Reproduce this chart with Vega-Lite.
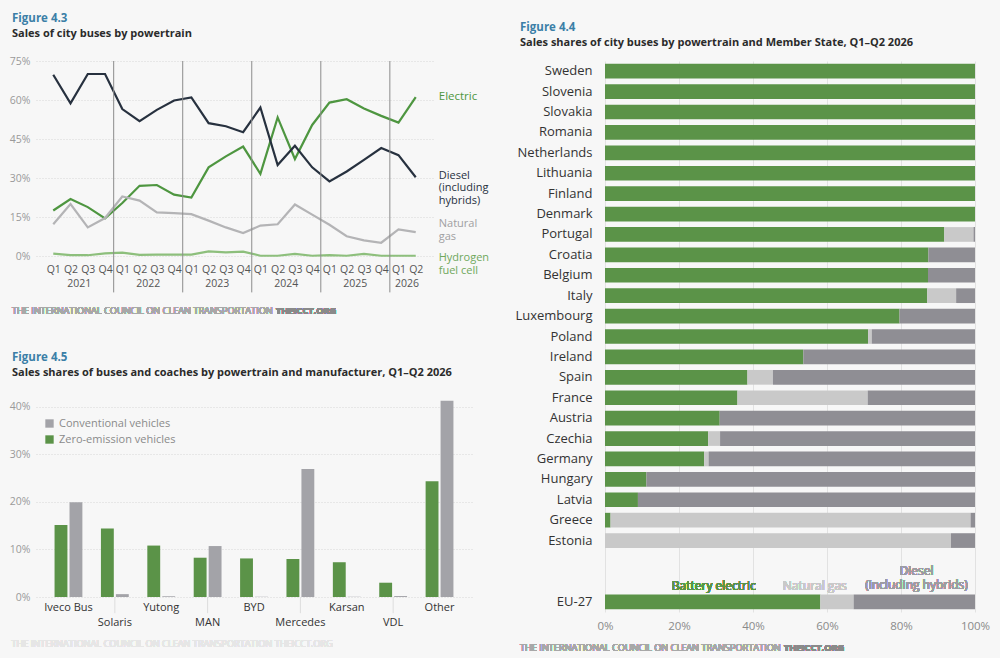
{
"$schema": "https://vega.github.io/schema/vega-lite/v6.json",
"background": "#f7f7f7",
"padding": {"left": 9, "top": 12, "right": 10, "bottom": 5},
"config": {"font": "Open Sans", "view": {"stroke": null}, "axis": {"labelFlush": false, "domain": false, "ticks": false, "labelOverlap": false}},
"spacing": 24,
"resolve": {"scale": {"x": "independent", "y": "independent", "color": "independent", "xOffset": "independent"}},
"hconcat": [
{
"vconcat": [
{
"title": {"text": "Figure 4.3", "subtitle": "Sales of city buses by powertrain", "anchor": "start", "frame": "group", "dx": -24, "offset": 17, "fontSize": 11.5, "fontWeight": "bold", "color": "#3b7fa7", "subtitleFontSize": 11, "subtitleFontWeight": "bold", "subtitleColor": "#2b2b2b", "subtitlePadding": 4},
"width": 397,
"height": 195,
"data": {"values": [
{"i":0,"quarter":"Q1","year":"2021","series":"Electric","share":17.5},
{"i":1,"quarter":"Q2","year":"2021","series":"Electric","share":21.9},
{"i":2,"quarter":"Q3","year":"2021","series":"Electric","share":18.8},
{"i":3,"quarter":"Q4","year":"2021","series":"Electric","share":14.5},
{"i":4,"quarter":"Q1","year":"2022","series":"Electric","share":20.4},
{"i":5,"quarter":"Q2","year":"2022","series":"Electric","share":27.0},
{"i":6,"quarter":"Q3","year":"2022","series":"Electric","share":27.3},
{"i":7,"quarter":"Q4","year":"2022","series":"Electric","share":23.6},
{"i":8,"quarter":"Q1","year":"2023","series":"Electric","share":22.5},
{"i":9,"quarter":"Q2","year":"2023","series":"Electric","share":34.1},
{"i":10,"quarter":"Q3","year":"2023","series":"Electric","share":38.3},
{"i":11,"quarter":"Q4","year":"2023","series":"Electric","share":42.1},
{"i":12,"quarter":"Q1","year":"2024","series":"Electric","share":31.6},
{"i":13,"quarter":"Q2","year":"2024","series":"Electric","share":53.3},
{"i":14,"quarter":"Q3","year":"2024","series":"Electric","share":37.3},
{"i":15,"quarter":"Q4","year":"2024","series":"Electric","share":50.4},
{"i":16,"quarter":"Q1","year":"2025","series":"Electric","share":59.0},
{"i":17,"quarter":"Q2","year":"2025","series":"Electric","share":60.3},
{"i":18,"quarter":"Q3","year":"2025","series":"Electric","share":56.7},
{"i":19,"quarter":"Q4","year":"2025","series":"Electric","share":53.9},
{"i":20,"quarter":"Q1","year":"2026","series":"Electric","share":51.3},
{"i":21,"quarter":"Q2","year":"2026","series":"Electric","share":61.1},
{"i":0,"quarter":"Q1","year":"2021","series":"Diesel (including hybrids)","share":69.7},
{"i":1,"quarter":"Q2","year":"2021","series":"Diesel (including hybrids)","share":58.7},
{"i":2,"quarter":"Q3","year":"2021","series":"Diesel (including hybrids)","share":70.0},
{"i":3,"quarter":"Q4","year":"2021","series":"Diesel (including hybrids)","share":70.0},
{"i":4,"quarter":"Q1","year":"2022","series":"Diesel (including hybrids)","share":56.5},
{"i":5,"quarter":"Q2","year":"2022","series":"Diesel (including hybrids)","share":51.9},
{"i":6,"quarter":"Q3","year":"2022","series":"Diesel (including hybrids)","share":56.2},
{"i":7,"quarter":"Q4","year":"2022","series":"Diesel (including hybrids)","share":59.8},
{"i":8,"quarter":"Q1","year":"2023","series":"Diesel (including hybrids)","share":61.0},
{"i":9,"quarter":"Q2","year":"2023","series":"Diesel (including hybrids)","share":51.1},
{"i":10,"quarter":"Q3","year":"2023","series":"Diesel (including hybrids)","share":49.9},
{"i":11,"quarter":"Q4","year":"2023","series":"Diesel (including hybrids)","share":47.6},
{"i":12,"quarter":"Q1","year":"2024","series":"Diesel (including hybrids)","share":57.1},
{"i":13,"quarter":"Q2","year":"2024","series":"Diesel (including hybrids)","share":35.0},
{"i":14,"quarter":"Q3","year":"2024","series":"Diesel (including hybrids)","share":42.4},
{"i":15,"quarter":"Q4","year":"2024","series":"Diesel (including hybrids)","share":34.1},
{"i":16,"quarter":"Q1","year":"2025","series":"Diesel (including hybrids)","share":28.7},
{"i":17,"quarter":"Q2","year":"2025","series":"Diesel (including hybrids)","share":32.5},
{"i":18,"quarter":"Q3","year":"2025","series":"Diesel (including hybrids)","share":37.0},
{"i":19,"quarter":"Q4","year":"2025","series":"Diesel (including hybrids)","share":41.5},
{"i":20,"quarter":"Q1","year":"2026","series":"Diesel (including hybrids)","share":38.8},
{"i":21,"quarter":"Q2","year":"2026","series":"Diesel (including hybrids)","share":30.3},
{"i":0,"quarter":"Q1","year":"2021","series":"Natural gas","share":12.2},
{"i":1,"quarter":"Q2","year":"2021","series":"Natural gas","share":20.0},
{"i":2,"quarter":"Q3","year":"2021","series":"Natural gas","share":11.0},
{"i":3,"quarter":"Q4","year":"2021","series":"Natural gas","share":14.6},
{"i":4,"quarter":"Q1","year":"2022","series":"Natural gas","share":22.9},
{"i":5,"quarter":"Q2","year":"2022","series":"Natural gas","share":21.3},
{"i":6,"quarter":"Q3","year":"2022","series":"Natural gas","share":16.8},
{"i":7,"quarter":"Q4","year":"2022","series":"Natural gas","share":16.5},
{"i":8,"quarter":"Q1","year":"2023","series":"Natural gas","share":16.1},
{"i":9,"quarter":"Q2","year":"2023","series":"Natural gas","share":13.6},
{"i":10,"quarter":"Q3","year":"2023","series":"Natural gas","share":11.0},
{"i":11,"quarter":"Q4","year":"2023","series":"Natural gas","share":8.8},
{"i":12,"quarter":"Q1","year":"2024","series":"Natural gas","share":11.7},
{"i":13,"quarter":"Q2","year":"2024","series":"Natural gas","share":12.2},
{"i":14,"quarter":"Q3","year":"2024","series":"Natural gas","share":19.8},
{"i":15,"quarter":"Q4","year":"2024","series":"Natural gas","share":15.9},
{"i":16,"quarter":"Q1","year":"2025","series":"Natural gas","share":12.0},
{"i":17,"quarter":"Q2","year":"2025","series":"Natural gas","share":7.6},
{"i":18,"quarter":"Q3","year":"2025","series":"Natural gas","share":6.0},
{"i":19,"quarter":"Q4","year":"2025","series":"Natural gas","share":5.1},
{"i":20,"quarter":"Q1","year":"2026","series":"Natural gas","share":10.2},
{"i":21,"quarter":"Q2","year":"2026","series":"Natural gas","share":9.2},
{"i":0,"quarter":"Q1","year":"2021","series":"Hydrogen fuel cell","share":0.9},
{"i":1,"quarter":"Q2","year":"2021","series":"Hydrogen fuel cell","share":0.3},
{"i":2,"quarter":"Q3","year":"2021","series":"Hydrogen fuel cell","share":0.3},
{"i":3,"quarter":"Q4","year":"2021","series":"Hydrogen fuel cell","share":1.0},
{"i":4,"quarter":"Q1","year":"2022","series":"Hydrogen fuel cell","share":1.3},
{"i":5,"quarter":"Q2","year":"2022","series":"Hydrogen fuel cell","share":0.4},
{"i":6,"quarter":"Q3","year":"2022","series":"Hydrogen fuel cell","share":0.5},
{"i":7,"quarter":"Q4","year":"2022","series":"Hydrogen fuel cell","share":0.5},
{"i":8,"quarter":"Q1","year":"2023","series":"Hydrogen fuel cell","share":0.5},
{"i":9,"quarter":"Q2","year":"2023","series":"Hydrogen fuel cell","share":1.8},
{"i":10,"quarter":"Q3","year":"2023","series":"Hydrogen fuel cell","share":1.4},
{"i":11,"quarter":"Q4","year":"2023","series":"Hydrogen fuel cell","share":1.7},
{"i":12,"quarter":"Q1","year":"2024","series":"Hydrogen fuel cell","share":0.1},
{"i":13,"quarter":"Q2","year":"2024","series":"Hydrogen fuel cell","share":0.1},
{"i":14,"quarter":"Q3","year":"2024","series":"Hydrogen fuel cell","share":0.8},
{"i":15,"quarter":"Q4","year":"2024","series":"Hydrogen fuel cell","share":0.1},
{"i":16,"quarter":"Q1","year":"2025","series":"Hydrogen fuel cell","share":0.3},
{"i":17,"quarter":"Q2","year":"2025","series":"Hydrogen fuel cell","share":0.1},
{"i":18,"quarter":"Q3","year":"2025","series":"Hydrogen fuel cell","share":0.8},
{"i":19,"quarter":"Q4","year":"2025","series":"Hydrogen fuel cell","share":0.1},
{"i":20,"quarter":"Q1","year":"2026","series":"Hydrogen fuel cell","share":0.1},
{"i":21,"quarter":"Q2","year":"2026","series":"Hydrogen fuel cell","share":0.1}
]},
"layer": [
{
"mark": {"type": "line", "strokeWidth": 2.2},
"encoding": {
"x": {"field": "i", "type": "quantitative", "title": null, "scale": {"domain": [-1, 22], "nice": false, "zero": false},
"axis": {"values": [0,1,2,3,4,5,6,7,8,9,10,11,12,13,14,15,16,17,18,19,20,21], "tickCount": 30, "labelExpr": "['Q1','Q2','Q3','Q4'][datum.value % 4]", "labelColor": "#555555", "labelFontSize": 10.5, "labelPadding": 8, "grid": false, "domain": false, "ticks": false, "labelFlush": false, "labelOverlap": false, "labelAngle": 0, "labelAlign": "center", "labelBaseline": "top"}},
"y": {"field": "share", "type": "quantitative", "title": null, "scale": {"domain": [0, 75], "nice": false},
"axis": {"values": [0, 15, 30, 45, 60, 75], "tickCount": 10, "labelExpr": "datum.value + '%'", "labelColor": "#9a9a9a", "labelFontSize": 10.5, "labelPadding": 6, "labelOverlap": false, "gridColor": "#d6d6d6", "gridDash": [1, 2], "domain": false, "ticks": false}},
"color": {"field": "series", "type": "nominal", "scale": {"domain": ["Hydrogen fuel cell", "Natural gas", "Electric", "Diesel (including hybrids)"], "range": ["#8dbf7c", "#b4b4b6", "#4e9640", "#27313f"]}, "legend": null}
}
},
{
"data": {"values": [{"boundary": 3.5}, {"boundary": 7.5}, {"boundary": 11.5}, {"boundary": 15.5}, {"boundary": 19.5}]},
"mark": {"type": "rule", "color": "#8c8c8c", "strokeWidth": 1, "clip": false},
"encoding": {
"x": {"field": "boundary", "type": "quantitative", "title": null},
"y": {"datum": 75, "type": "quantitative"},
"y2": {"datum": -14}
}
},
{
"transform": [{"filter": "datum.series == 'Electric'"}, {"aggregate": [{"op": "mean", "field": "i", "as": "mid"}], "groupby": ["year"]}],
"mark": {"type": "text", "dy": 28, "fontSize": 10.5, "color": "#555555", "baseline": "middle"},
"encoding": {"x": {"field": "mid", "type": "quantitative"}, "y": {"datum": 0}, "text": {"field": "year"}}
},
{
"transform": [{"filter": "datum.i == 21 && datum.series == 'Electric'"}],
"mark": {"type": "text", "align": "left", "baseline": "middle", "dx": 23, "fontSize": 11.5, "color": "#4e9640", "text": "Electric"},
"encoding": {"x": {"field": "i", "type": "quantitative"}, "y": {"field": "share", "type": "quantitative"}}
},
{
"transform": [{"filter": "datum.i == 21 && datum.series == 'Diesel (including hybrids)'"}],
"mark": {"type": "text", "align": "left", "baseline": "middle", "dx": 23, "dy": -1.5, "fontSize": 11, "lineHeight": 12.5, "color": "#27313f", "text": ["Diesel", "(including", "hybrids)"]},
"encoding": {"x": {"field": "i", "type": "quantitative"}, "y": {"field": "share", "type": "quantitative"}}
},
{
"transform": [{"filter": "datum.i == 21 && datum.series == 'Natural gas'"}],
"mark": {"type": "text", "align": "left", "baseline": "middle", "dx": 23, "dy": -8, "fontSize": 11, "lineHeight": 13, "color": "#a0a0a2", "text": ["Natural", "gas"]},
"encoding": {"x": {"field": "i", "type": "quantitative"}, "y": {"field": "share", "type": "quantitative"}}
},
{
"transform": [{"filter": "datum.i == 21 && datum.series == 'Hydrogen fuel cell'"}],
"mark": {"type": "text", "align": "left", "baseline": "middle", "dx": 23, "dy": 2.5, "fontSize": 11, "lineHeight": 13, "color": "#6fa85c", "text": ["Hydrogen", "fuel cell"]},
"encoding": {"x": {"field": "i", "type": "quantitative"}, "y": {"field": "share", "type": "quantitative"}}
},
{
"mark": {"type": "text", "align": "left", "baseline": "middle", "dx": -24, "dy": 55, "fontSize": 9.2, "color": "#a8a8a8", "text": "THE INTERNATIONAL COUNCIL ON CLEAN TRANSPORTATION"},
"encoding": {"x": {"datum": -1}, "y": {"datum": 0}}
},
{
"mark": {"type": "text", "align": "left", "baseline": "middle", "dx": 240, "dy": 55, "fontSize": 9.2, "fontWeight": "bold", "color": "#8a8a8a", "text": "THEICCT.ORG"},
"encoding": {"x": {"datum": -1}, "y": {"datum": 0}}
}
]
},
{
"title": {"text": "Figure 4.5", "subtitle": "Sales shares of buses and coaches by powertrain and manufacturer, Q1–Q2 2026", "anchor": "start", "frame": "group", "dx": -24, "offset": 19, "fontSize": 11.5, "fontWeight": "bold", "color": "#3b7fa7", "subtitleFontSize": 11, "subtitleFontWeight": "bold", "subtitleColor": "#2b2b2b", "subtitlePadding": 4},
"width": 436,
"height": 200,
"data": {"values": [
{"manufacturer":"Iveco Bus","type":"Zero-emission vehicles","share":15.1},
{"manufacturer":"Iveco Bus","type":"Conventional vehicles","share":19.9},
{"manufacturer":"Solaris","type":"Zero-emission vehicles","share":14.4},
{"manufacturer":"Solaris","type":"Conventional vehicles","share":0.6},
{"manufacturer":"Yutong","type":"Zero-emission vehicles","share":10.8},
{"manufacturer":"Yutong","type":"Conventional vehicles","share":0.15},
{"manufacturer":"MAN","type":"Zero-emission vehicles","share":8.25},
{"manufacturer":"MAN","type":"Conventional vehicles","share":10.7},
{"manufacturer":"BYD","type":"Zero-emission vehicles","share":8.1},
{"manufacturer":"BYD","type":"Conventional vehicles","share":0.05},
{"manufacturer":"Mercedes","type":"Zero-emission vehicles","share":8.0},
{"manufacturer":"Mercedes","type":"Conventional vehicles","share":26.9},
{"manufacturer":"Karsan","type":"Zero-emission vehicles","share":7.3},
{"manufacturer":"Karsan","type":"Conventional vehicles","share":0.05},
{"manufacturer":"VDL","type":"Zero-emission vehicles","share":3.0},
{"manufacturer":"VDL","type":"Conventional vehicles","share":0.2},
{"manufacturer":"Other","type":"Zero-emission vehicles","share":24.3},
{"manufacturer":"Other","type":"Conventional vehicles","share":41.2}
]},
"layer": [
{
"mark": {"type": "bar"},
"encoding": {
"x": {"field": "manufacturer", "type": "nominal", "title": null, "scale": {"domain": ["Iveco Bus","Solaris","Yutong","MAN","BYD","Mercedes","Karsan","VDL","Other"], "paddingInner": 0.4, "paddingOuter": 0.4},
"axis": {"labelAngle": 0, "labelAlign": "center", "labelBaseline": "top", "labelColor": "#333333", "labelFontSize": 11, "labelPadding": 4, "labelLineHeight": 15, "labelExpr": "indexof(['Solaris','MAN','Mercedes','VDL'], datum.value) >= 0 ? ['', datum.value] : datum.value", "domain": false, "ticks": false}},
"xOffset": {"field": "type", "type": "nominal", "sort": ["Zero-emission vehicles", "Conventional vehicles"], "scale": {"paddingInner": 0.14}},
"y": {"field": "share", "type": "quantitative", "title": null, "scale": {"domain": [0, 42], "nice": false},
"axis": {"values": [0, 10, 20, 30, 40], "tickCount": 10, "labelExpr": "datum.value + '%'", "labelColor": "#9a9a9a", "labelFontSize": 10.5, "labelPadding": 6, "gridColor": "#d6d6d6", "gridDash": [1, 2], "domain": false, "ticks": false}},
"color": {"field": "type", "type": "nominal", "scale": {"domain": ["Conventional vehicles", "Zero-emission vehicles"], "range": ["#a3a3a8", "#5b9348"]},
"legend": {"orient": "none", "legendX": 8, "legendY": 21, "title": null, "symbolType": "square", "symbolSize": 70, "symbolStrokeWidth": 0, "labelFontSize": 11, "labelColor": "#8a8a8a", "rowPadding": 4}}
}
},
{
"transform": [{"filter": "datum.type == 'Zero-emission vehicles' && indexof(['Solaris','MAN','Mercedes','VDL'], datum.manufacturer) >= 0"}],
"mark": {"type": "rule", "color": "#dddddd", "strokeWidth": 1, "clip": false},
"encoding": {
"x": {"field": "manufacturer", "type": "nominal", "title": null},
"y": {"datum": 0, "type": "quantitative"},
"y2": {"datum": -3.4}
}
},
{
"mark": {"type": "text", "align": "left", "baseline": "middle", "dx": -57, "dy": 47, "fontSize": 9.2, "color": "#e6e6e6", "text": "THE INTERNATIONAL COUNCIL ON CLEAN TRANSPORTATION THEICCT.ORG"},
"encoding": {"x": {"datum": "Iveco Bus"}, "y": {"datum": 0}}
}
]
}
],
"spacing": 141,
"bounds": "flush",
"resolve": {"scale": {"x": "independent", "y": "independent", "color": "independent", "xOffset": "independent"}}
},
{
"title": {"text": "Figure 4.4", "subtitle": "Sales shares of city buses by powertrain and Member State, Q1–Q2 2026", "anchor": "start", "frame": "group", "dx": -85, "offset": 13, "fontSize": 11.5, "fontWeight": "bold", "color": "#3b7fa7", "subtitleFontSize": 11, "subtitleFontWeight": "bold", "subtitleColor": "#2b2b2b", "subtitlePadding": 4},
"width": 370,
"height": 551,
"data": {"values": [
{"country":"Sweden","powertrain":"Battery electric","share":100},
{"country":"Slovenia","powertrain":"Battery electric","share":100},
{"country":"Slovakia","powertrain":"Battery electric","share":100},
{"country":"Romania","powertrain":"Battery electric","share":100},
{"country":"Netherlands","powertrain":"Battery electric","share":100},
{"country":"Lithuania","powertrain":"Battery electric","share":100},
{"country":"Finland","powertrain":"Battery electric","share":100},
{"country":"Denmark","powertrain":"Battery electric","share":100},
{"country":"Portugal","powertrain":"Battery electric","share":91.7},
{"country":"Portugal","powertrain":"Natural gas","share":7.9},
{"country":"Portugal","powertrain":"Diesel (including hybrids)","share":0.4},
{"country":"Croatia","powertrain":"Battery electric","share":87.4},
{"country":"Croatia","powertrain":"Diesel (including hybrids)","share":12.6},
{"country":"Belgium","powertrain":"Battery electric","share":87.3},
{"country":"Belgium","powertrain":"Diesel (including hybrids)","share":12.7},
{"country":"Italy","powertrain":"Battery electric","share":87.1},
{"country":"Italy","powertrain":"Natural gas","share":7.8},
{"country":"Italy","powertrain":"Diesel (including hybrids)","share":5.1},
{"country":"Luxembourg","powertrain":"Battery electric","share":79.6},
{"country":"Luxembourg","powertrain":"Diesel (including hybrids)","share":20.4},
{"country":"Poland","powertrain":"Battery electric","share":71.1},
{"country":"Poland","powertrain":"Natural gas","share":1.0},
{"country":"Poland","powertrain":"Diesel (including hybrids)","share":27.9},
{"country":"Ireland","powertrain":"Battery electric","share":53.6},
{"country":"Ireland","powertrain":"Diesel (including hybrids)","share":46.4},
{"country":"Spain","powertrain":"Battery electric","share":38.5},
{"country":"Spain","powertrain":"Natural gas","share":6.9},
{"country":"Spain","powertrain":"Diesel (including hybrids)","share":54.6},
{"country":"France","powertrain":"Battery electric","share":35.8},
{"country":"France","powertrain":"Natural gas","share":35.2},
{"country":"France","powertrain":"Diesel (including hybrids)","share":29.0},
{"country":"Austria","powertrain":"Battery electric","share":31.0},
{"country":"Austria","powertrain":"Diesel (including hybrids)","share":69.0},
{"country":"Czechia","powertrain":"Battery electric","share":27.9},
{"country":"Czechia","powertrain":"Natural gas","share":3.2},
{"country":"Czechia","powertrain":"Diesel (including hybrids)","share":68.9},
{"country":"Germany","powertrain":"Battery electric","share":26.8},
{"country":"Germany","powertrain":"Natural gas","share":1.2},
{"country":"Germany","powertrain":"Diesel (including hybrids)","share":72.0},
{"country":"Hungary","powertrain":"Battery electric","share":11.2},
{"country":"Hungary","powertrain":"Diesel (including hybrids)","share":88.8},
{"country":"Latvia","powertrain":"Battery electric","share":8.9},
{"country":"Latvia","powertrain":"Diesel (including hybrids)","share":91.1},
{"country":"Greece","powertrain":"Battery electric","share":1.5},
{"country":"Greece","powertrain":"Natural gas","share":97.3},
{"country":"Greece","powertrain":"Diesel (including hybrids)","share":1.2},
{"country":"Estonia","powertrain":"Natural gas","share":93.5},
{"country":"Estonia","powertrain":"Diesel (including hybrids)","share":6.5},
{"country":"EU-27","powertrain":"Battery electric","share":58.2},
{"country":"EU-27","powertrain":"Natural gas","share":9.0},
{"country":"EU-27","powertrain":"Diesel (including hybrids)","share":32.8}
]},
"layer": [
{
"transform": [{"calculate": "indexof(['Battery electric','Natural gas','Diesel (including hybrids)'], datum.powertrain)", "as": "stackOrder"}],
"mark": {"type": "bar"},
"encoding": {
"y": {"field": "country", "type": "nominal", "title": null,
"scale": {"domain": ["Sweden","Slovenia","Slovakia","Romania","Netherlands","Lithuania","Finland","Denmark","Portugal","Croatia","Belgium","Italy","Luxembourg","Poland","Ireland","Spain","France","Austria","Czechia","Germany","Hungary","Latvia","Greece","Estonia"," ","  ","EU-27"], "paddingInner": 0.28, "paddingOuter": 0.14},
"axis": {"labelColor": "#333333", "labelFontSize": 13, "labelPadding": 13, "ticks": false, "domain": false}},
"x": {"field": "share", "type": "quantitative", "stack": "normalize", "title": null,
"axis": {"values": [0, 0.2, 0.4, 0.6, 0.8, 1], "tickCount": 10, "format": ".0%", "labelColor": "#8a8a8a", "labelFontSize": 11.5, "labelPadding": 8, "gridColor": "#e2e2e2", "labelFlush": false, "domain": false, "ticks": false}},
"color": {"field": "powertrain", "type": "nominal",
"scale": {"domain": ["Battery electric", "Natural gas", "Diesel (including hybrids)"], "range": ["#5b9348", "#c9c9c9", "#8f8e94"]}, "legend": null},
"order": {"field": "stackOrder", "type": "quantitative", "sort": "ascending"}
}
},
{
"mark": {"type": "text", "align": "center", "baseline": "bottom", "dy": 12, "fontSize": 12, "color": "#5b9348", "text": "Battery electric"},
"encoding": {"x": {"datum": 0.294}, "y": {"datum": "  "}}
},
{
"mark": {"type": "text", "align": "center", "baseline": "bottom", "dy": 12, "fontSize": 12, "color": "#c9c9c9", "text": "Natural gas"},
"encoding": {"x": {"datum": 0.567}, "y": {"datum": "  "}}
},
{
"mark": {"type": "text", "align": "center", "baseline": "bottom", "dy": -3.5, "fontSize": 12, "lineHeight": 14.5, "color": "#9d9ca2", "text": ["Diesel", "(including hybrids)"]},
"encoding": {"x": {"datum": 0.842}, "y": {"datum": "  "}}
},
{
"mark": {"type": "text", "align": "left", "baseline": "middle", "dx": -85, "dy": 46, "fontSize": 9.2, "color": "#a8a8a8", "text": "THE INTERNATIONAL COUNCIL ON CLEAN TRANSPORTATION"},
"encoding": {"x": {"datum": 0}, "y": {"datum": "EU-27"}}
},
{
"mark": {"type": "text", "align": "left", "baseline": "middle", "dx": 179, "dy": 46, "fontSize": 9.2, "fontWeight": "bold", "color": "#8a8a8a", "text": "THEICCT.ORG"},
"encoding": {"x": {"datum": 0}, "y": {"datum": "EU-27"}}
}
]
}
]
}
